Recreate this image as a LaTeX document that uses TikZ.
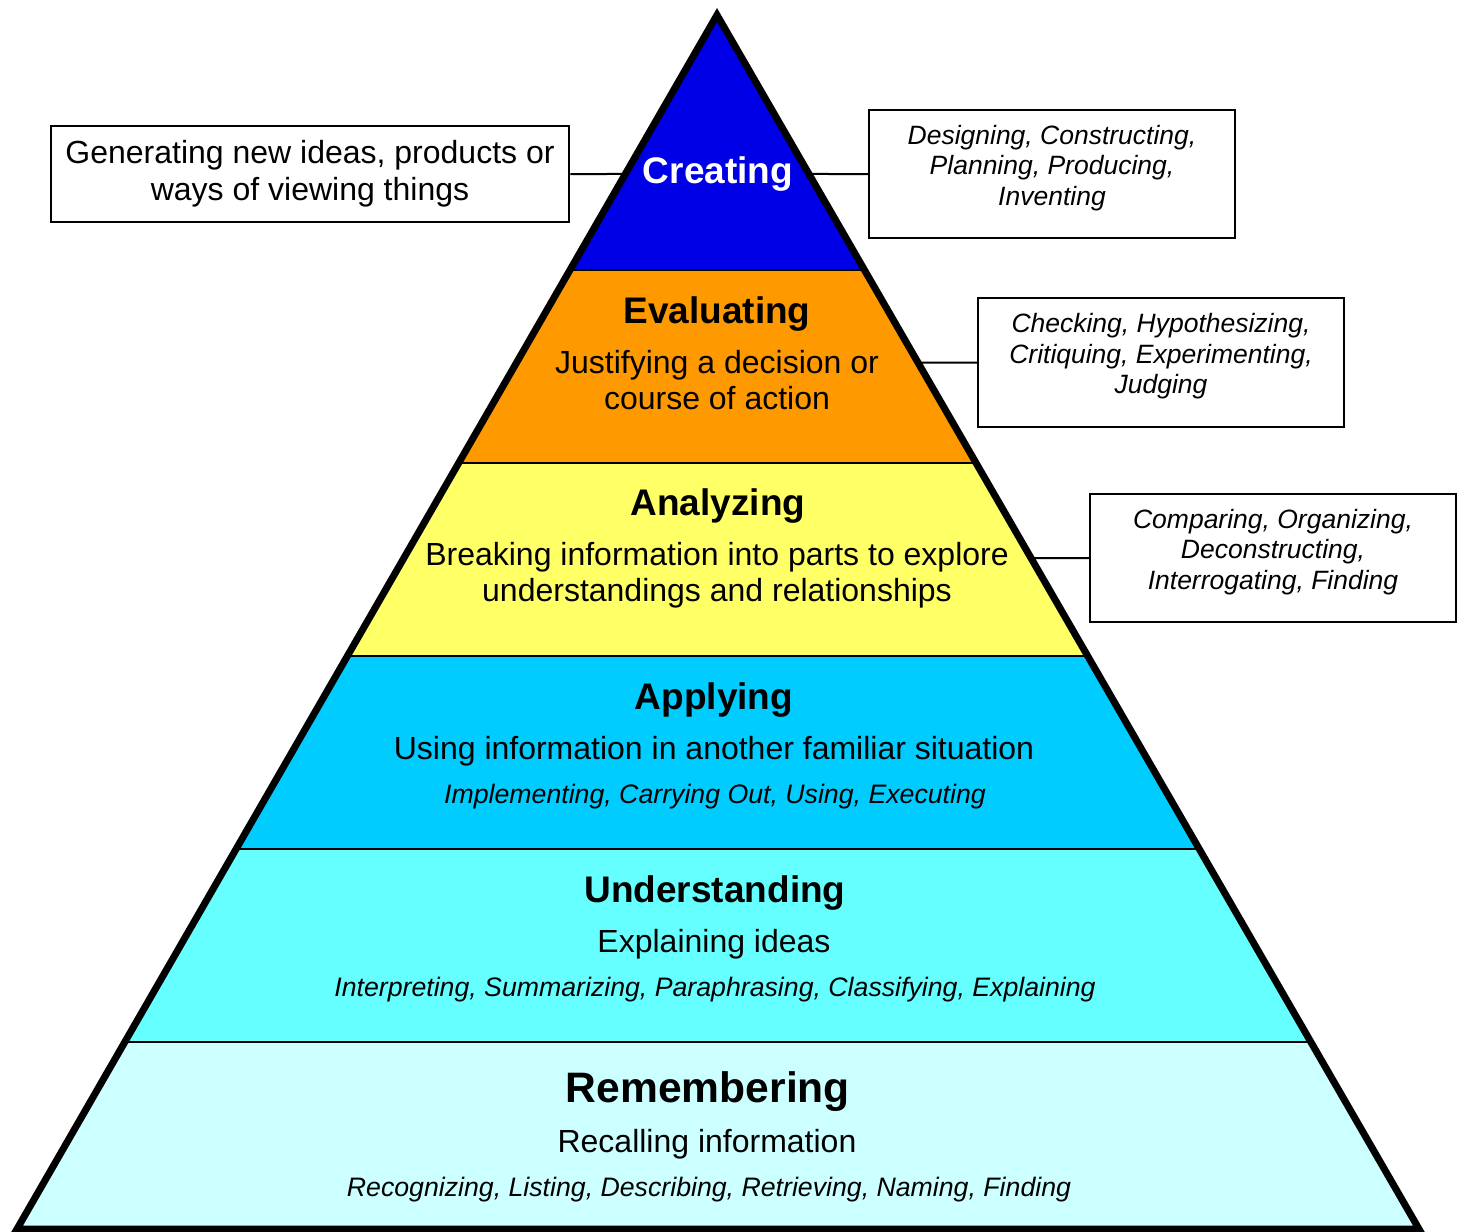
\documentclass[tikz,border=0pt]{standalone}
\usepackage{fontspec}
\setmainfont{Liberation Sans}
\usetikzlibrary{calc}
\definecolor{createcol}{RGB}{0,0,230}
\definecolor{evalcol}{RGB}{255,153,0}
\definecolor{analyzecol}{RGB}{255,255,102}
\definecolor{applycol}{RGB}{0,204,255}
\definecolor{understandcol}{RGB}{102,255,255}
\definecolor{remembercol}{RGB}{204,255,255}
\begin{document}
\begin{tikzpicture}[x=1pt, y=-1pt,
  lvltitle/.style = {anchor=base, inner sep=0pt,
    font=\fontsize{37}{44}\selectfont\bfseries},
  lvldesc/.style = {anchor=base, inner sep=0pt,
    font=\fontsize{32}{37}\selectfont},
  lvlverbs/.style = {anchor=base, inner sep=0pt,
    font=\fontsize{26.7}{31}\selectfont\itshape},
  sidebox/.style = {draw, line width=2.5pt, inner sep=0pt,
    minimum width=366pt, minimum height=128pt},
  boxtext/.style = {align=center, inner sep=0pt, yshift=6pt,
    font=\fontsize{26.5}{30.5}\selectfont\itshape},
  link/.style = {line width=2pt}]
  \useasboundingbox (0,0) rectangle (1460,1232);
  \coordinate (apex) at (717,15);
  \coordinate (bl) at (17,1229);
  \coordinate (br) at (1419,1229);
  \coordinate (edgeL) at ($(apex)!{(174-15)/1214}!(bl)$);
  \coordinate (edgeC) at ($(apex)!{(174-15)/1214}!(br)$);
  \coordinate (edgeE) at ($(apex)!{(362.5-15)/1214}!(br)$);
  \coordinate (edgeA) at ($(apex)!{(558-15)/1214}!(br)$);
  \node[draw, line width=2.5pt, inner sep=0pt, align=center,
    minimum width=518pt, minimum height=96pt,
    font=\fontsize{32}{37}\selectfont] (gen) at (310,174)
    {Generating new ideas, products or\\ways of viewing things};
  \node[sidebox, label={[boxtext]center:Designing, Constructing,\\Planning, Producing,\\Inventing}]
    (boxC) at (1052,174) {};
  \node[sidebox, minimum height=129pt,
    label={[boxtext]center:Checking, Hypothesizing,\\Critiquing, Experimenting,\\Judging}]
    (boxE) at (1161,362.5) {};
  \node[sidebox, label={[boxtext]center:Comparing, Organizing,\\Deconstructing,\\Interrogating, Finding}]
    (boxA) at (1273,558) {};
  \draw[link] (gen.east) -- (edgeL);
  \draw[link] (edgeC) -- (boxC.west);
  \draw[link] (edgeE) -- (boxE.west);
  \draw[link] (edgeA) -- (boxA.west);
  \begin{scope}
    \clip (apex) -- (br) -- (bl) -- cycle;
    \fill[createcol] (0,0) rectangle (1460,270);
    \fill[evalcol] (0,270) rectangle (1460,463);
    \fill[analyzecol] (0,463) rectangle (1460,656);
    \fill[applycol] (0,656) rectangle (1460,849);
    \fill[understandcol] (0,849) rectangle (1460,1042);
    \fill[remembercol] (0,1042) rectangle (1460,1240);
    \draw[link] (0,270) -- (1460,270);
    \draw[link] (0,463) -- (1460,463);
    \draw[link] (0,656) -- (1460,656);
    \draw[link] (0,849) -- (1460,849);
    \draw[link] (0,1042) -- (1460,1042);
  \end{scope}
  \draw[line width=7pt, line join=miter] (apex) -- (br) -- (bl) -- cycle;
  \node[lvltitle, text=white] (creating) at (718,183) {Creating};
  \node[lvltitle] (evaluating) at (717,323) {Evaluating};
  \node[lvldesc] (evaluatingA) at (717,373) {Justifying a decision or};
  \node[lvldesc] (evaluatingB) at (717,409) {course of action};
  \node[lvltitle] (analyzing) at (718,515) {Analyzing};
  \node[lvldesc] (analyzingA) at (717,565) {Breaking information into parts to explore};
  \node[lvldesc] (analyzingB) at (717,601) {understandings and relationships};
  \node[lvltitle] (applying) at (714,709) {Applying};
  \node[lvldesc] (applyingA) at (714,759) {Using information in another familiar situation};
  \node[lvlverbs] (applyingB) at (715,803) {Implementing, Carrying Out, Using, Executing};
  \node[lvltitle] (understanding) at (715,902) {Understanding};
  \node[lvldesc] (understandingA) at (714,952) {Explaining ideas};
  \node[lvlverbs] (understandingB) at (715,996)
    {Interpreting, Summarizing, Paraphrasing, Classifying, Explaining};
  \node[lvltitle, font=\fontsize{42.6}{50}\selectfont\bfseries] (remembering) at (708,1102) {Remembering};
  \node[lvldesc] (rememberingA) at (707,1152) {Recalling information};
  \node[lvlverbs] (rememberingB) at (709,1196)
    {Recognizing, Listing, Describing, Retrieving, Naming, Finding};
\end{tikzpicture}
\end{document}
